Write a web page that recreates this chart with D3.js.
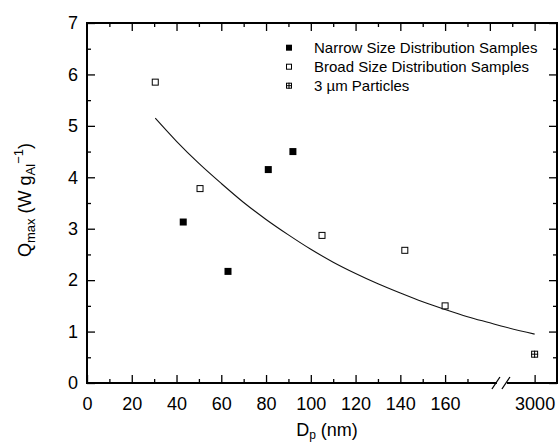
<!DOCTYPE html>
<html>
<head>
<meta charset="utf-8">
<script src="https://cdn.jsdelivr.net/npm/d3@7"></script>
<style>
  body { margin: 0; background: #fff; }
  text { font-family: "Liberation Sans", Arial, sans-serif; fill: #000; }
</style>
</head>
<body>
<svg id="chart" width="559" height="445"></svg>
<script>
// data
const narrowX = [43, 63, 81, 92];
const narrowY = [3.13, 2.17, 4.15, 4.5];
const broadX = [30.5, 50.5, 105, 142, 160];
const broadY = [5.85, 3.78, 2.87, 2.58, 1.5];
const bigX = [3000];
const bigY = [0.56];
// fitted curve as drawn
const curveX = [30.5, 40, 50, 60, 70, 80, 90, 100, 110, 120, 130, 140, 150, 160, 170, 180, 185, 3000];
const curveY = [5.15, 4.7, 4.27, 3.88, 3.51, 3.18, 2.88, 2.6, 2.35, 2.13, 1.93, 1.75, 1.58, 1.43, 1.29, 1.17, 1.11, 0.95];

const xMajor = [0, 20, 40, 60, 80, 100, 120, 140, 160, 3000];
const xMinor = [10, 30, 50, 70, 90, 110, 130, 150, 170];
const yMajor = [0, 1, 2, 3, 4, 5, 6, 7];
const yMinor = [0.5, 1.5, 2.5, 3.5, 4.5, 5.5, 6.5];

const legendItems = [
  { label: "Narrow Size Distribution Samples", kind: "filled" },
  { label: "Broad Size Distribution Samples", kind: "open" },
  { label: "3 \u00b5m Particles", kind: "cross" }
];

const svg = d3.select("#chart");
const pLeft = 87, pRight = 557, pTop = 23, pBottom = 383;

// linear part of the axis, 3000 sits where 200 would be
const xLin = d3.scaleLinear().domain([0, 210]).range([pLeft, pRight]);
const x = d3.scaleLinear()
  .domain([0, 185, 3000, 3010])
  .range([xLin(0), xLin(185), xLin(200), xLin(210)]);
const y = d3.scaleLinear().domain([0, 7]).range([pBottom, pTop]);

svg.append("rect").attr("width", 559).attr("height", 445).attr("fill", "#fff");

function styleAxis(g) {
  g.select(".domain").remove();
  g.selectAll("line").attr("stroke", "#000").attr("stroke-width", 1.3);
  g.selectAll("text").style("font-size", "18px").attr("fill", "#000");
}

// bottom
svg.append("g")
  .attr("transform", "translate(0," + pBottom + ")")
  .call(d3.axisBottom(x).tickValues(xMajor).tickFormat(d3.format("d")).tickSize(-8).tickPadding(14))
  .call(styleAxis);
svg.append("g")
  .attr("transform", "translate(0," + pBottom + ")")
  .call(d3.axisBottom(x).tickValues(xMinor).tickFormat("").tickSize(-4))
  .call(styleAxis);

// top, no break up there
svg.append("g")
  .attr("transform", "translate(0," + pTop + ")")
  .call(d3.axisTop(xLin).tickValues(d3.range(20, 201, 20)).tickFormat("").tickSize(-8))
  .call(styleAxis);
svg.append("g")
  .attr("transform", "translate(0," + pTop + ")")
  .call(d3.axisTop(xLin).tickValues(d3.range(10, 200, 20)).tickFormat("").tickSize(-4))
  .call(styleAxis);

// left
svg.append("g")
  .attr("transform", "translate(" + pLeft + ",0)")
  .call(d3.axisLeft(y).tickValues(yMajor).tickFormat(d3.format("d")).tickSize(-8).tickPadding(9))
  .call(styleAxis);
svg.append("g")
  .attr("transform", "translate(" + pLeft + ",0)")
  .call(d3.axisLeft(y).tickValues(yMinor).tickFormat("").tickSize(-4))
  .call(styleAxis);

// right
svg.append("g")
  .attr("transform", "translate(" + pRight + ",0)")
  .call(d3.axisRight(y).tickValues(yMajor).tickFormat("").tickSize(-8))
  .call(styleAxis);
svg.append("g")
  .attr("transform", "translate(" + pRight + ",0)")
  .call(d3.axisRight(y).tickValues(yMinor).tickFormat("").tickSize(-4))
  .call(styleAxis);

// frame with the axis break
const frame = svg.append("g").attr("stroke", "#000").attr("stroke-width", 2).attr("fill", "none");
const brk = xLin(184.5);
frame.append("path").attr("d",
  "M" + pLeft + "," + (pBottom + 1) + "V" + pTop + "H" + pRight + "V" + (pBottom + 1));
frame.append("line").attr("x1", pLeft).attr("x2", brk - 3).attr("y1", pBottom).attr("y2", pBottom);
frame.append("line").attr("x1", brk + 7).attr("x2", pRight).attr("y1", pBottom).attr("y2", pBottom);
[-4, 6].forEach(function (o) {
  frame.append("line")
    .attr("stroke-width", 1.3)
    .attr("x1", brk + o - 4).attr("y1", pBottom + 6)
    .attr("x2", brk + o + 4).attr("y2", pBottom - 6);
});

// fitted curve
const line = d3.line()
  .x(function (d, i) { return x(curveX[i]); })
  .y(function (d, i) { return y(curveY[i]); })
  .curve(d3.curveMonotoneX);
svg.append("path")
  .datum(curveX)
  .attr("fill", "none")
  .attr("stroke", "#111")
  .attr("stroke-width", 1.1)
  .attr("d", line);

function marker(g, cx, cy, kind, s) {
  if (kind === "filled") {
    g.append("rect").attr("x", cx - s / 2).attr("y", cy - s / 2)
      .attr("width", s).attr("height", s).attr("fill", "#000");
    return;
  }
  g.append("rect").attr("x", cx - s / 2 + 0.5).attr("y", cy - s / 2 + 0.5)
    .attr("width", s - 1).attr("height", s - 1)
    .attr("fill", "#fff").attr("stroke", "#000").attr("stroke-width", 1);
  if (kind === "cross") {
    g.append("path")
      .attr("d", "M" + cx + "," + (cy - s / 2) + "V" + (cy + s / 2) +
        "M" + (cx - s / 2) + "," + cy + "H" + (cx + s / 2))
      .attr("stroke", "#000").attr("stroke-width", 1);
  }
}

const pts = svg.append("g");
narrowX.forEach(function (v, i) { marker(pts, x(v), y(narrowY[i]), "filled", 7); });
broadX.forEach(function (v, i) { marker(pts, x(v), y(broadY[i]), "open", 7); });
bigX.forEach(function (v, i) { marker(pts, x(v), y(bigY[i]), "cross", 7); });

// legend
const legend = svg.append("g");
legendItems.forEach(function (item, i) {
  const cy = 47.7 + i * 19;
  marker(legend, 289, cy, item.kind, 6);
  legend.append("text")
    .attr("x", 314).attr("y", cy)
    .attr("dy", "0.36em")
    .style("font-size", "15px")
    .text(item.label);
});

// axis titles
const yt = svg.append("text")
  .attr("transform", "translate(31,200) rotate(-90)")
  .attr("text-anchor", "middle")
  .style("font-size", "18px");
yt.append("tspan").text("Q");
yt.append("tspan").attr("dy", 4).style("font-size", "13px").text("max");
yt.append("tspan").attr("dy", -4).text(" (W g");
yt.append("tspan").attr("dy", 4).style("font-size", "13px").text("Al");
yt.append("tspan").attr("dy", -12).style("font-size", "13px").text("\u22121");
yt.append("tspan").attr("dy", 8).text(")");

const xt = svg.append("text")
  .attr("x", 327).attr("y", 436)
  .attr("text-anchor", "middle")
  .style("font-size", "18px");
xt.append("tspan").text("D");
xt.append("tspan").attr("dy", 3).style("font-size", "12px").text("p");
xt.append("tspan").attr("dy", -3).text(" (nm)");
</script>
</body>
</html>
